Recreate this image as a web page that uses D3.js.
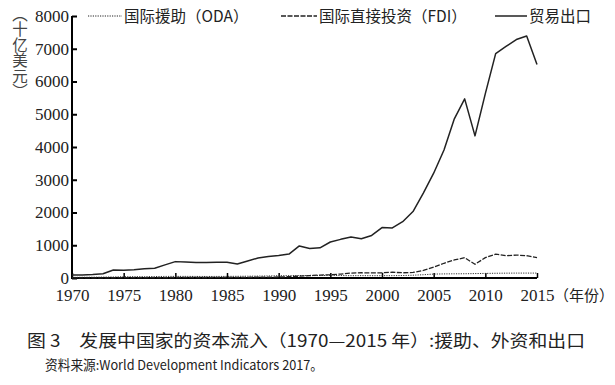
<!DOCTYPE html>
<html>
<head>
<meta charset="utf-8">
<script src="https://cdn.jsdelivr.net/npm/d3@7"></script>
<style>
  body { margin: 0; background: #fff; }
  text { fill: #222; }
</style>
</head>
<body>
<svg width="615" height="385"></svg>
<script>
var years = d3.range(1970, 2016);

// billions of US$
var trade = [90, 95, 105, 130, 245, 240, 255, 280, 300, 400,
             500, 490, 475, 470, 480, 480, 430, 520, 610, 660,
             690, 730, 980, 900, 920, 1100, 1180, 1250, 1200, 1300,
             1540, 1530, 1720, 2030, 2590, 3200, 3910, 4860, 5470, 4340,
             5630, 6850, 7070, 7280, 7390, 6520];
var fdi = [5, 5, 5, 6, 8, 10, 10, 10, 12, 12,
           15, 18, 15, 15, 17, 20, 20, 22, 25, 28,
           30, 40, 55, 75, 90, 100, 120, 150, 160, 155,
           160, 175, 160, 170, 230, 330, 450, 550, 620, 420,
           620, 730, 680, 700, 680, 620];
var oda = [20, 22, 25, 28, 32, 40, 40, 42, 45, 48,
           50, 50, 48, 47, 48, 50, 52, 55, 58, 62,
           70, 72, 75, 72, 75, 80, 75, 70, 72, 70,
           70, 72, 75, 85, 100, 120, 125, 128, 130, 135,
           140, 145, 148, 150, 150, 150];
var yTicks = [0, 1000, 2000, 3000, 4000, 5000, 6000, 7000, 8000];
var xTicks = [1970, 1975, 1980, 1985, 1990, 1995, 2000, 2005, 2010, 2015];

var svg = d3.select("svg");
var serif = "'Liberation Serif', 'Times New Roman', Times, 'DejaVu Serif', serif";
var cjk = "'Noto Sans CJK SC', sans-serif";

var x = d3.scaleLinear().domain([1970, 2015]).range([72, 537]);
var y = d3.scaleLinear().domain([0, 8000]).range([278, 16]);

var yAxis = svg.append("g")
    .attr("transform", "translate(72,0)")
    .call(d3.axisRight(y).tickValues(yTicks).tickSize(5).tickFormat(d3.format("d")));
yAxis.select(".domain").attr("stroke-width", 2).attr("d", "M0,16V279");
yAxis.selectAll(".tick line").attr("stroke-width", 2);
yAxis.selectAll(".tick text")
    .attr("x", -3).attr("text-anchor", "end").attr("dy", "0.32em")
    .style("font-family", serif).style("font-size", "17px");

var xAxis = svg.append("g")
    .attr("transform", "translate(0,278)")
    .call(d3.axisTop(x).tickValues(xTicks).tickSize(5).tickFormat(d3.format("d")));
xAxis.select(".domain").attr("stroke-width", 2).attr("d", "M71,0H537");
xAxis.selectAll(".tick line").attr("stroke-width", 1.5);
xAxis.selectAll(".tick text")
    .attr("y", 23).attr("dy", 0)
    .style("font-family", serif).style("font-size", "17px");
svg.append("text").attr("x", 554).attr("y", 301)
    .style("font-family", cjk).style("font-size", "15px")
    .text("（年份）");

var line = function(vals) {
  return d3.line().x(function(d, i) { return x(years[i]); })
      .y(function(d) { return y(d); })(vals);
};

svg.append("path").attr("d", line(oda)).attr("fill", "none")
    .attr("stroke", "#333").attr("stroke-width", 1).attr("stroke-dasharray", "1.2,1.2");
svg.append("path").attr("d", line(fdi)).attr("fill", "none")
    .attr("stroke", "#222").attr("stroke-width", 1.3).attr("stroke-dasharray", "5,1.5");
svg.append("path").attr("d", line(trade)).attr("fill", "none")
    .attr("stroke", "#222").attr("stroke-width", 1.5).attr("stroke-linejoin", "round");

// legend
var legend = [
  {name: "国际援助（ODA）", x1: 88, x2: 122, dash: "1.2,1.2", w: 1},
  {name: "国际直接投资（FDI）", x1: 281, x2: 317, dash: "5,1.5", w: 1.3},
  {name: "贸易出口", x1: 495, x2: 527, dash: null, w: 1.5}
];
var lg = svg.append("g").selectAll("g").data(legend).enter().append("g");
lg.append("line")
    .attr("x1", function(d) { return d.x1; }).attr("x2", function(d) { return d.x2; })
    .attr("y1", 16).attr("y2", 16)
    .attr("stroke", "#222").attr("stroke-width", function(d) { return d.w; })
    .attr("stroke-dasharray", function(d) { return d.dash; });
lg.append("text")
    .attr("x", function(d) { return d.x2 + 2; }).attr("y", 22)
    .style("font-family", cjk).style("font-size", "15.5px")
    .text(function(d) { return d.name; });

// y axis label, written vertically
svg.append("text")
    .attr("x", 20).attr("y", 6)
    .style("writing-mode", "vertical-rl")
    .style("text-orientation", "upright")
    .style("font-family", cjk).style("font-size", "15.5px")
    .style("fill", "#444")
    .text("（十亿美元）");

// caption
svg.append("text").attr("x", 27).attr("y", 347)
    .attr("textLength", 558).attr("lengthAdjust", "spacingAndGlyphs")
    .style("font-family", cjk).style("font-size", "17px")
    .text("图 3　发展中国家的资本流入（1970—2015 年）:援助、外资和出口");
svg.append("text").attr("x", 45).attr("y", 370)
    .attr("textLength", 278).attr("lengthAdjust", "spacingAndGlyphs")
    .style("font-family", cjk).style("font-size", "13.5px")
    .text("资料来源:World Development Indicators 2017。");
</script>
</body>
</html>
